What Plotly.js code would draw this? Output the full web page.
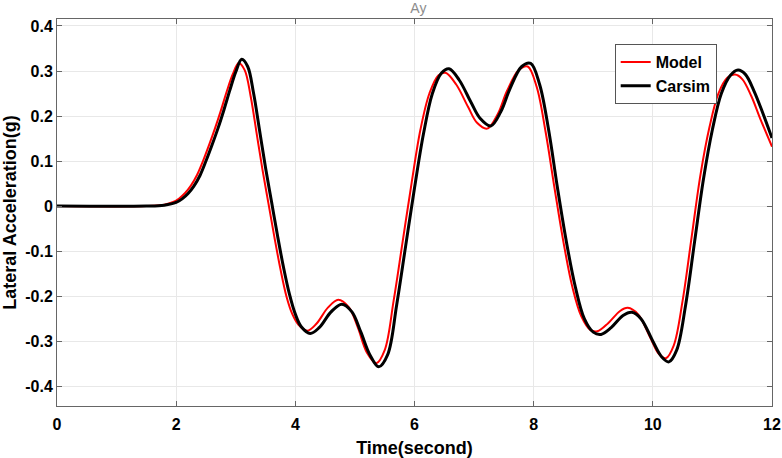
<!DOCTYPE html>
<html>
<head>
<meta charset="utf-8">
<script src="https://cdn.plot.ly/plotly-3.0.1.min.js"></script>
<style>
  html, body { margin: 0; padding: 0; background: white; }
  #graph { width: 782px; height: 458px; }
</style>
</head>
<body>
<div id="graph"></div>
<script>
// Carsim reference (black)
const carsimT = [0, 1.5, 1.8, 2.0, 2.1, 2.2, 2.3, 2.4, 2.5, 2.6, 2.7, 2.8, 2.9, 3.0, 3.1, 3.2, 3.3, 3.4, 3.5, 3.6, 3.7, 3.8, 3.9, 4.0, 4.1, 4.25, 4.4, 4.6, 4.78, 4.95, 5.1, 5.25, 5.4, 5.55, 5.7, 5.85, 6.0, 6.15, 6.3, 6.45, 6.58, 6.75, 6.95, 7.1, 7.28, 7.45, 7.6, 7.8, 7.95, 8.1, 8.25, 8.4, 8.55, 8.7, 8.85, 9.0, 9.13, 9.3, 9.5, 9.65, 9.8, 10.0, 10.15, 10.27, 10.4, 10.55, 10.7, 10.85, 11.0, 11.15, 11.3, 11.43, 11.55, 11.7, 11.85, 12];
const carsimAy = [0, 0, 0.002, 0.008, 0.016, 0.028, 0.045, 0.068, 0.1, 0.135, 0.172, 0.213, 0.257, 0.298, 0.326, 0.31, 0.25, 0.168, 0.085, 0.01, -0.065, -0.135, -0.195, -0.24, -0.268, -0.283, -0.27, -0.235, -0.218, -0.235, -0.28, -0.33, -0.357, -0.33, -0.22, -0.09, 0.04, 0.16, 0.25, 0.295, 0.305, 0.28, 0.23, 0.195, 0.178, 0.21, 0.26, 0.31, 0.317, 0.27, 0.17, 0.04, -0.08, -0.18, -0.25, -0.28, -0.285, -0.27, -0.243, -0.236, -0.25, -0.3, -0.335, -0.346, -0.32, -0.22, -0.08, 0.06, 0.17, 0.25, 0.29, 0.302, 0.293, 0.255, 0.205, 0.151];

// Model (red)
const modelT = [0, 1.5, 1.8, 1.95, 2.05, 2.15, 2.25, 2.35, 2.45, 2.55, 2.65, 2.75, 2.85, 2.95, 3.05, 3.15, 3.25, 3.35, 3.45, 3.55, 3.65, 3.75, 3.85, 3.95, 4.05, 4.2, 4.35, 4.55, 4.72, 4.9, 5.05, 5.2, 5.36, 5.5, 5.65, 5.8, 5.95, 6.1, 6.25, 6.4, 6.52, 6.7, 6.9, 7.05, 7.22, 7.4, 7.55, 7.75, 7.9, 8.05, 8.2, 8.35, 8.5, 8.65, 8.8, 8.95, 9.07, 9.25, 9.45, 9.58, 9.75, 9.95, 10.1, 10.22, 10.35, 10.5, 10.65, 10.8, 10.95, 11.1, 11.25, 11.38, 11.5, 11.65, 11.8, 12];
const modelAy = [0, 0, 0.003, 0.009, 0.017, 0.029, 0.046, 0.069, 0.1, 0.135, 0.172, 0.212, 0.255, 0.293, 0.318, 0.302, 0.244, 0.162, 0.08, 0.005, -0.07, -0.14, -0.2, -0.24, -0.263, -0.277, -0.262, -0.225, -0.208, -0.225, -0.27, -0.325, -0.349, -0.32, -0.21, -0.08, 0.05, 0.17, 0.25, 0.29, 0.296, 0.27, 0.22, 0.185, 0.172, 0.205, 0.255, 0.302, 0.31, 0.265, 0.165, 0.04, -0.08, -0.18, -0.245, -0.275, -0.278, -0.26, -0.233, -0.226, -0.24, -0.29, -0.328, -0.338, -0.31, -0.21, -0.07, 0.07, 0.175, 0.25, 0.285, 0.292, 0.282, 0.245, 0.195, 0.132];

const xTicks = [0, 2, 4, 6, 8, 10, 12];
const yTicks = [-0.4, -0.3, -0.2, -0.1, 0, 0.1, 0.2, 0.3, 0.4];
const yTickText = ['-0.4', '-0.3', '-0.2', '-0.1', '0', '0.1', '0.2', '0.3', '0.4'];

const font = 'Liberation Sans, Arial, sans-serif';

const model = {
    x: modelT, y: modelAy, name: 'Model', mode: 'lines',
    line: { color: '#ff0000', width: 2, shape: 'spline', smoothing: 1 },
};
const carsim = {
    x: carsimT, y: carsimAy, name: 'Carsim', mode: 'lines',
    line: { color: '#000000', width: 3, shape: 'spline', smoothing: 1 },
};

const axisBase = {
    showline: true, mirror: 'ticks', linecolor: '#666', linewidth: 1,
    ticks: 'inside', ticklen: 5, tickcolor: '#666',
    showgrid: true, gridcolor: '#e8e8e8', zeroline: false,
    tickfont: { family: font, size: 16, color: '#000', weight: 'bold' },
};

const layout = {
    width: 782, height: 458,
    margin: { l: 57, r: 10, t: 19, b: 52 },
    paper_bgcolor: 'white', plot_bgcolor: 'white',
    title: { text: 'Ay', font: { family: font, size: 14, color: '#8c8c8c' }, x: 0.535, xanchor: 'center', y: 0.982, yanchor: 'middle' },
    showlegend: true,
    legend: {
        x: 0.78, y: 0.935, xanchor: 'left', yanchor: 'top',
        bgcolor: 'white', bordercolor: '#555', borderwidth: 1,
        font: { family: font, size: 16, color: '#000', weight: 'bold' },
        traceorder: 'normal', tracegroupgap: 0, itemwidth: 30,
    },
    xaxis: Object.assign({}, axisBase, {
        range: [0, 12], tickvals: xTicks, ticklabelstandoff: 4,
        title: { text: 'Time(second)', font: { family: font, size: 18, color: '#000', weight: 'bold' }, standoff: 10 },
    }),
    yaxis: Object.assign({}, axisBase, {
        range: [-0.444, 0.4155], tickvals: yTicks, ticktext: yTickText,
        title: { text: 'Lateral Acceleration(g)', font: { family: font, size: 18, color: '#000', weight: 'bold' }, standoff: 4 },
    }),
};

Plotly.newPlot('graph', [model, carsim], layout, { staticPlot: true });
</script>
</body>
</html>
